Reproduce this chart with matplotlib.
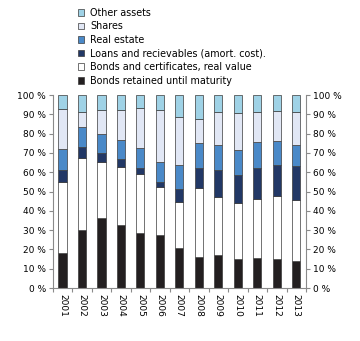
import matplotlib
matplotlib.use("Agg")
import matplotlib.pyplot as plt
import numpy as np
from matplotlib.patches import Patch

years = ["2001", "2002", "2003", "2004", "2005", "2006", "2007",
         "2008", "2009", "2010", "2011", "2012", "2013"]

# percent of total, bottom to top
bonds_maturity = [18.3, 29.9, 36.2, 32.7, 28.4, 27.5, 20.6, 16.1, 17.3, 15.2, 15.6, 15.2, 13.8]
bonds_real = [36.7, 37.6, 29.0, 30.1, 30.9, 24.6, 24.2, 35.5, 29.9, 28.6, 30.4, 32.4, 31.7]
loans = [6.1, 5.5, 4.5, 3.8, 2.8, 2.7, 6.4, 10.5, 13.9, 14.7, 16.3, 16.1, 17.6]
real_estate = [10.9, 10.2, 9.9, 9.9, 10.7, 10.3, 12.3, 12.8, 12.8, 13.0, 13.1, 12.3, 10.9]
shares = [20.6, 7.8, 12.4, 15.7, 20.3, 27.1, 25.3, 12.6, 17.1, 19.3, 15.6, 15.9, 17.0]
other = [7.4, 9.0, 8.0, 7.8, 6.9, 7.8, 11.2, 12.5, 9.0, 9.2, 9.0, 8.1, 9.0]

labels = ["Bonds retained until maturity", "Bonds and certificates, real value",
          "Loans and recievables (amort. cost).", "Real estate", "Shares", "Other assets"]
colors = ["#231f20", "#ffffff", "#223866", "#4a89c8", "#e1e7f5", "#9fd2e6"]
series = [bonds_maturity, bonds_real, loans, real_estate, shares, other]

plt.rcParams["font.family"] = ["DejaVu Sans"]
plt.rcParams["font.size"] = 6.5

fig = plt.figure(figsize=(3.6, 3.41), dpi=100)
ax = fig.add_axes([0.1464, 0.1554, 0.7036, 0.566])

x = np.arange(len(years))
bottom = np.zeros(len(years))
for vals, col in zip(series, colors):
    ax.bar(x, vals, 0.42, bottom=bottom, color=col, edgecolor="#3a3a3a", linewidth=0.5)
    bottom += np.array(vals)

grey = "#8a8a8a"
ax.set_xlim(-0.5, len(years) - 0.5)
ax.set_ylim(0, 100)
ax.set_yticks(np.arange(0, 101, 10))
ax.set_yticklabels([f"{v} %" for v in range(0, 101, 10)])
ax.tick_params(axis="y", which="both", left=True, right=True, labelleft=True,
               labelright=True, color=grey, length=3, width=0.8, pad=2)

ax.set_xticks(x)
ax.set_xticklabels(years, rotation=270)
ax.set_xticks(np.arange(-0.5, len(years), 1), minor=True)
ax.tick_params(axis="x", which="major", length=0, pad=4)
ax.tick_params(axis="x", which="minor", length=3, color=grey, width=0.8)

ax.spines["top"].set_visible(False)
for side in ("left", "right", "bottom"):
    ax.spines[side].set_color(grey)
    ax.spines[side].set_linewidth(0.8)

handles = [Patch(facecolor=c, edgecolor="#3a3a3a", linewidth=0.5, label=l)
           for c, l in zip(colors, labels)][::-1]
fig.legend(handles=handles, loc="upper left", bbox_to_anchor=(0.2, 0.994),
           frameon=False, handlelength=0.7, handleheight=0.7, handletextpad=0.6,
           labelspacing=0.37, borderaxespad=0.2, fontsize=6.9)

fig.savefig("out.png", dpi=100)
